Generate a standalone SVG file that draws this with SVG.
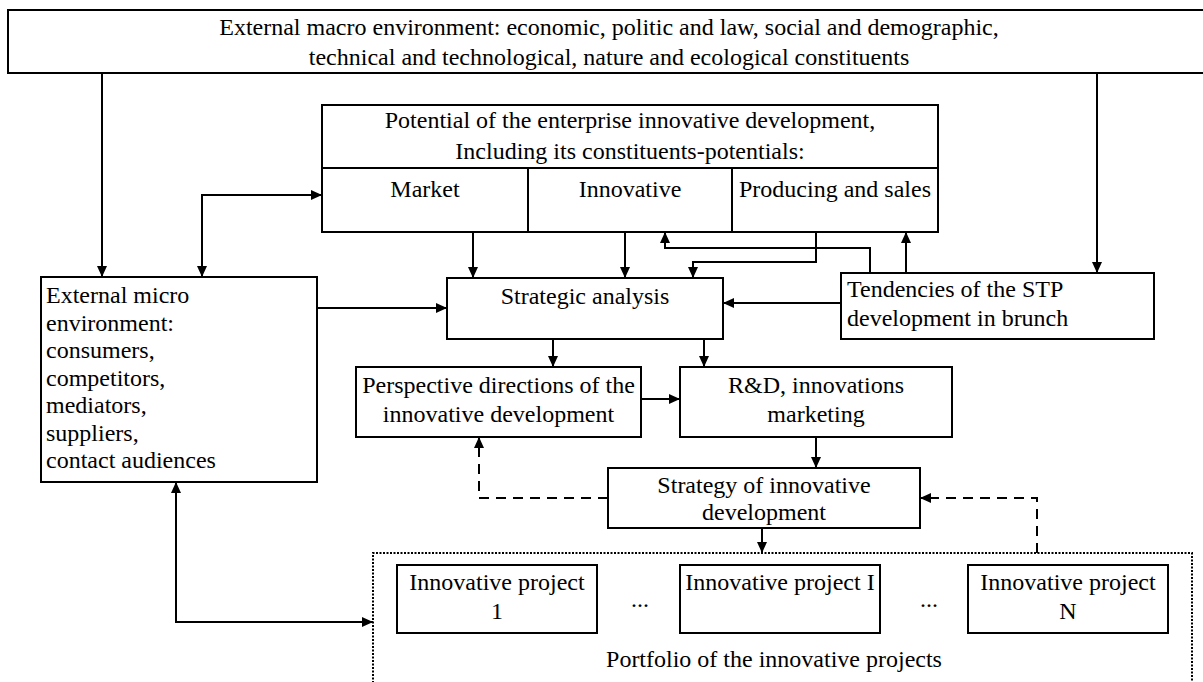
<svg xmlns="http://www.w3.org/2000/svg" width="1203" height="682" viewBox="0 0 1203 682">
  <defs>
    <style>
      .box { fill: #ffffff; stroke: #000000; stroke-width: 2; }
      .ln { fill: none; stroke: #000000; stroke-width: 2; }
      .dash { fill: none; stroke: #000000; stroke-width: 2; stroke-dasharray: 10 7; }
      .dot { fill: none; stroke: #000000; stroke-width: 2; stroke-dasharray: 2 1.5; }
      text { font-family: "Liberation Serif", "Times New Roman", serif; font-size: 24px; fill: #000000; }
      .c { text-anchor: middle; }
    </style>
    <marker id="arrow" viewBox="0 0 11 10" refX="11" refY="5" markerWidth="11" markerHeight="10" markerUnits="userSpaceOnUse" orient="auto-start-reverse">
      <path d="M0,0 L11,5 L0,10 z" fill="#000000"/>
    </marker>
  </defs>

  <rect width="1203" height="682" fill="#ffffff"/>

  <!-- outer environment -->
  <g id="macro">
    <rect class="box" x="8" y="10" width="1205" height="63"/>
    <text class="c" x="609" y="35">External macro environment: economic, politic and law, social and demographic,</text>
    <text class="c" x="609" y="65">technical and technological, nature and ecological constituents</text>
  </g>

  <!-- potential with three sub-potentials -->
  <g id="potential">
    <rect class="box" x="322" y="105" width="616" height="127"/>
    <path class="ln" d="M322,168 H938 M528,168 V232 M732,168 V232"/>
    <text class="c" x="630" y="128">Potential of the enterprise innovative development,</text>
    <text class="c" x="630" y="159">Including its constituents-potentials:</text>
    <text class="c" x="425" y="197">Market</text>
    <text class="c" x="630" y="197">Innovative</text>
    <text class="c" x="835" y="197">Producing and sales</text>
  </g>

  <g id="micro">
    <rect class="box" x="41" y="277" width="276" height="205"/>
    <text x="46" y="303">External micro</text>
    <text x="46" y="330.5">environment:</text>
    <text x="46" y="358">consumers,</text>
    <text x="46" y="385.5">competitors,</text>
    <text x="46" y="413">mediators,</text>
    <text x="46" y="440.5">suppliers,</text>
    <text x="46" y="468">contact audiences</text>
  </g>

  <g id="analysis">
    <rect class="box" x="447" y="278" width="276" height="61"/>
    <text class="c" x="585" y="304">Strategic analysis</text>
  </g>

  <g id="tendencies">
    <rect class="box" x="841" y="273" width="313" height="66"/>
    <text x="847" y="297">Tendencies of the STP</text>
    <text x="847" y="326">development in brunch</text>
  </g>

  <g id="directions">
    <rect class="box" x="356" y="367" width="285" height="70"/>
    <text class="c" x="498.5" y="393">Perspective directions of the</text>
    <text class="c" x="498.5" y="422">innovative development</text>
  </g>

  <g id="rnd">
    <rect class="box" x="680" y="367" width="272" height="70"/>
    <text class="c" x="816" y="393">R&amp;D, innovations</text>
    <text class="c" x="816" y="422">marketing</text>
  </g>

  <g id="strategy">
    <rect class="box" x="608" y="468" width="312" height="60"/>
    <text class="c" x="764" y="493">Strategy of innovative</text>
    <text class="c" x="764" y="520">development</text>
  </g>

  <g id="portfolio">
    <path class="dot" d="M373,690 V553 H1192 V690"/>
    <text class="c" x="774" y="667">Portfolio of the innovative projects</text>
  </g>

  <g id="project-1">
    <rect class="box" x="397" y="565" width="200" height="68"/>
    <text class="c" x="497" y="590">Innovative project</text>
    <text class="c" x="497" y="619">1</text>
  </g>

  <g id="project-i">
    <rect class="box" x="680" y="565" width="200" height="68"/>
    <text class="c" x="780" y="590">Innovative project I</text>
  </g>

  <g id="project-n">
    <rect class="box" x="968" y="565" width="200" height="68"/>
    <text class="c" x="1068" y="590">Innovative project</text>
    <text class="c" x="1068" y="619">N</text>
  </g>

  <g id="ellipses">
    <text class="c" x="640" y="607">...</text>
    <text class="c" x="929" y="607">...</text>
  </g>

  <g id="connectors">
    <!-- from the outer environment -->
    <path class="ln" d="M102,73 V277" marker-end="url(#arrow)"/>
    <path class="ln" d="M1097,73 V273" marker-end="url(#arrow)"/>
    <!-- micro environment and potential, both ways -->
    <path class="ln" d="M202,277 V195 H322" marker-start="url(#arrow)" marker-end="url(#arrow)"/>
    <!-- potentials into analysis -->
    <path class="ln" d="M473,232 V278" marker-end="url(#arrow)"/>
    <path class="ln" d="M625,232 V278" marker-end="url(#arrow)"/>
    <path class="ln" d="M816,232 V262 H693 V278" marker-end="url(#arrow)"/>
    <!-- tendencies back to potentials -->
    <path class="ln" d="M870,273 V248 H665 V232" marker-end="url(#arrow)"/>
    <path class="ln" d="M906,273 V232" marker-end="url(#arrow)"/>
    <!-- side inputs of analysis -->
    <path class="ln" d="M317,308 H447" marker-end="url(#arrow)"/>
    <path class="ln" d="M841,303 H723" marker-end="url(#arrow)"/>
    <!-- analysis downwards -->
    <path class="ln" d="M553,339 V367" marker-end="url(#arrow)"/>
    <path class="ln" d="M704,339 V367" marker-end="url(#arrow)"/>
    <path class="ln" d="M641,399 H680" marker-end="url(#arrow)"/>
    <path class="ln" d="M816,437 V468" marker-end="url(#arrow)"/>
    <path class="ln" d="M762,528 V553" marker-end="url(#arrow)"/>
    <!-- feedback loops -->
    <path class="dash" d="M608,498 H479 V437" marker-end="url(#arrow)"/>
    <path class="dash" d="M1037,553 V498 H920" marker-end="url(#arrow)"/>
    <!-- micro environment and portfolio, both ways -->
    <path class="ln" d="M176,482 V622 H373" marker-start="url(#arrow)" marker-end="url(#arrow)"/>
  </g>
</svg>
